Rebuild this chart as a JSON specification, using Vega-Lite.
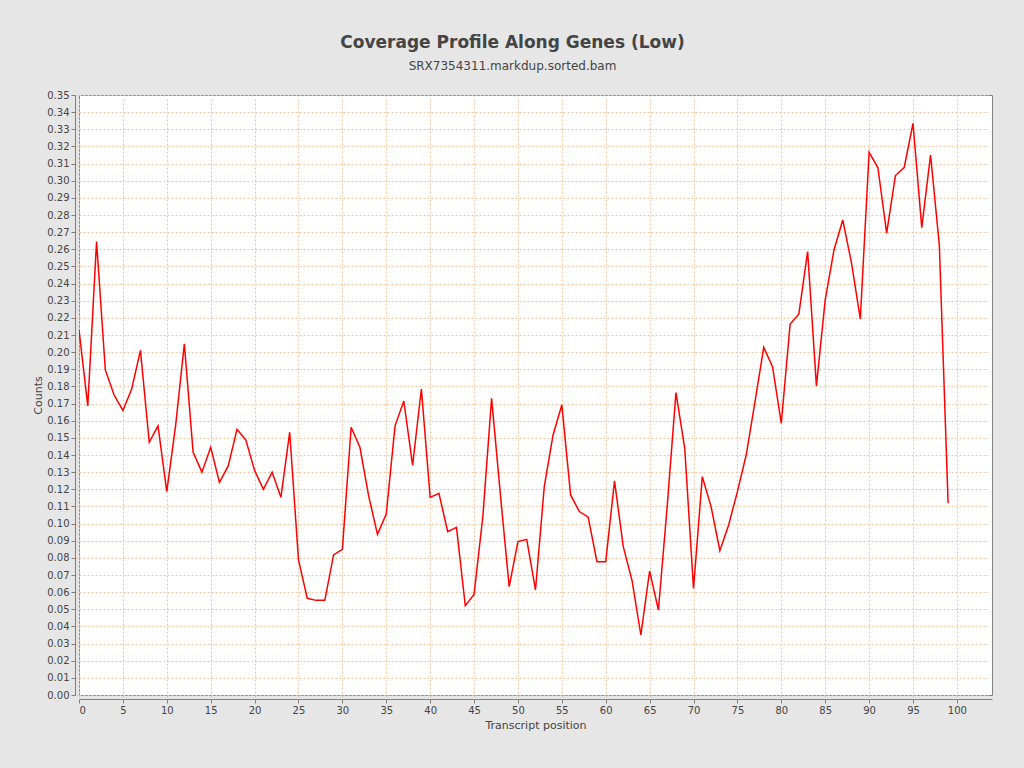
{
  "$schema": "https://vega.github.io/schema/vega-lite/v6.json",
  "background": "#e6e6e6",
  "autosize": "none",
  "padding": {"left": 79, "top": 95, "right": 32, "bottom": 73},
  "width": 913,
  "height": 600,
  "title": {
    "text": "Coverage Profile Along Genes (Low)",
    "subtitle": "SRX7354311.markdup.sorted.bam",
    "anchor": "middle",
    "dx": -23,
    "offset": 17,
    "font": "DejaVu Sans",
    "fontSize": 17,
    "fontWeight": "bold",
    "color": "#444444",
    "subtitleFont": "DejaVu Sans",
    "subtitleFontSize": 12,
    "subtitleColor": "#444444",
    "subtitlePadding": 9
  },
  "data": {
    "values": [
      {"pos": 0, "count": 0.213},
      {"pos": 1, "count": 0.1686},
      {"pos": 2, "count": 0.2645},
      {"pos": 3, "count": 0.1896},
      {"pos": 4, "count": 0.175},
      {"pos": 5, "count": 0.166},
      {"pos": 6, "count": 0.1785},
      {"pos": 7, "count": 0.201},
      {"pos": 8, "count": 0.1474},
      {"pos": 9, "count": 0.157},
      {"pos": 10, "count": 0.1186},
      {"pos": 11, "count": 0.157},
      {"pos": 12, "count": 0.2048},
      {"pos": 13, "count": 0.1416},
      {"pos": 14, "count": 0.13},
      {"pos": 15, "count": 0.1445},
      {"pos": 16, "count": 0.124},
      {"pos": 17, "count": 0.1336},
      {"pos": 18, "count": 0.155},
      {"pos": 19, "count": 0.1488},
      {"pos": 20, "count": 0.131},
      {"pos": 21, "count": 0.12},
      {"pos": 22, "count": 0.13},
      {"pos": 23, "count": 0.1153},
      {"pos": 24, "count": 0.1533},
      {"pos": 25, "count": 0.079},
      {"pos": 26, "count": 0.0564},
      {"pos": 27, "count": 0.0552},
      {"pos": 28, "count": 0.0552},
      {"pos": 29, "count": 0.0817},
      {"pos": 30, "count": 0.085},
      {"pos": 31, "count": 0.1562},
      {"pos": 32, "count": 0.1445},
      {"pos": 33, "count": 0.116},
      {"pos": 34, "count": 0.0937},
      {"pos": 35, "count": 0.1056},
      {"pos": 36, "count": 0.157},
      {"pos": 37, "count": 0.1715},
      {"pos": 38, "count": 0.134},
      {"pos": 39, "count": 0.1785},
      {"pos": 40, "count": 0.1153},
      {"pos": 41, "count": 0.1177},
      {"pos": 42, "count": 0.0953},
      {"pos": 43, "count": 0.0978},
      {"pos": 44, "count": 0.0521},
      {"pos": 45, "count": 0.0587},
      {"pos": 46, "count": 0.104},
      {"pos": 47, "count": 0.173},
      {"pos": 48, "count": 0.117},
      {"pos": 49, "count": 0.0632},
      {"pos": 50, "count": 0.0895},
      {"pos": 51, "count": 0.0908},
      {"pos": 52, "count": 0.0613},
      {"pos": 53, "count": 0.1215},
      {"pos": 54, "count": 0.1517},
      {"pos": 55, "count": 0.1692},
      {"pos": 56, "count": 0.1167},
      {"pos": 57, "count": 0.107},
      {"pos": 58, "count": 0.1037},
      {"pos": 59, "count": 0.0778},
      {"pos": 60, "count": 0.0778},
      {"pos": 61, "count": 0.1249},
      {"pos": 62, "count": 0.0865},
      {"pos": 63, "count": 0.0667},
      {"pos": 64, "count": 0.035},
      {"pos": 65, "count": 0.0723},
      {"pos": 66, "count": 0.0496},
      {"pos": 67, "count": 0.11},
      {"pos": 68, "count": 0.1764},
      {"pos": 69, "count": 0.1439},
      {"pos": 70, "count": 0.0622},
      {"pos": 71, "count": 0.1274},
      {"pos": 72, "count": 0.1099},
      {"pos": 73, "count": 0.0842},
      {"pos": 74, "count": 0.0992},
      {"pos": 75, "count": 0.1186},
      {"pos": 76, "count": 0.14},
      {"pos": 77, "count": 0.171},
      {"pos": 78, "count": 0.2028},
      {"pos": 79, "count": 0.1915},
      {"pos": 80, "count": 0.1585},
      {"pos": 81, "count": 0.2163},
      {"pos": 82, "count": 0.2223},
      {"pos": 83, "count": 0.2587},
      {"pos": 84, "count": 0.1803},
      {"pos": 85, "count": 0.2305},
      {"pos": 86, "count": 0.2596},
      {"pos": 87, "count": 0.2771},
      {"pos": 88, "count": 0.2519},
      {"pos": 89, "count": 0.2194},
      {"pos": 90, "count": 0.3166},
      {"pos": 91, "count": 0.3077},
      {"pos": 92, "count": 0.2694},
      {"pos": 93, "count": 0.303},
      {"pos": 94, "count": 0.3077},
      {"pos": 95, "count": 0.3335},
      {"pos": 96, "count": 0.2726},
      {"pos": 97, "count": 0.315},
      {"pos": 98, "count": 0.2625},
      {"pos": 99, "count": 0.1118}
    ]
  },
  "mark": {"type": "line", "color": "#ff0000", "strokeWidth": 1.5, "clip": true},
  "encoding": {
    "x": {
      "field": "pos",
      "type": "quantitative",
      "title": "Transcript position",
      "scale": {"domain": [0, 104], "nice": false, "zero": false},
      "axis": {"values": [0, 5, 10, 15, 20, 25, 30, 35, 40, 45, 50, 55, 60, 65, 70, 75, 80, 85, 90, 95, 100]}
    },
    "y": {
      "field": "count",
      "type": "quantitative",
      "title": "Counts",
      "scale": {"domain": [0, 0.35], "nice": false},
      "axis": {
        "format": ".2f",
        "values": [0, 0.01, 0.02, 0.03, 0.04, 0.05, 0.06, 0.07, 0.08, 0.09, 0.1, 0.11, 0.12, 0.13, 0.14, 0.15, 0.16, 0.17, 0.18, 0.19, 0.2, 0.21, 0.22, 0.23, 0.24, 0.25, 0.26, 0.27, 0.28, 0.29, 0.3, 0.31, 0.32, 0.33, 0.34, 0.35]
      }
    }
  },
  "config": {
    "view": {"stroke": "#808080", "strokeWidth": 1, "fill": "#ffffff"},
    "axis": {
      "offset": 4,
      "domainColor": "#808080",
      "tickColor": "#808080",
      "tickSize": 4,
      "labelFont": "DejaVu Sans",
      "labelFontSize": 10,
      "labelColor": "#444444",
      "labelPadding": 2,
      "titleFont": "DejaVu Sans",
      "titleFontSize": 11,
      "titleFontWeight": "normal",
      "titleColor": "#444444",
      "grid": true,
      "gridColor": "#f0c49c",
      "gridDash": [2, 2],
      "gridWidth": 1,
      "labelOverlap": false
    },
    "axisX": {"titlePadding": 4},
    "axisY": {"titlePadding": 3}
  }
}
